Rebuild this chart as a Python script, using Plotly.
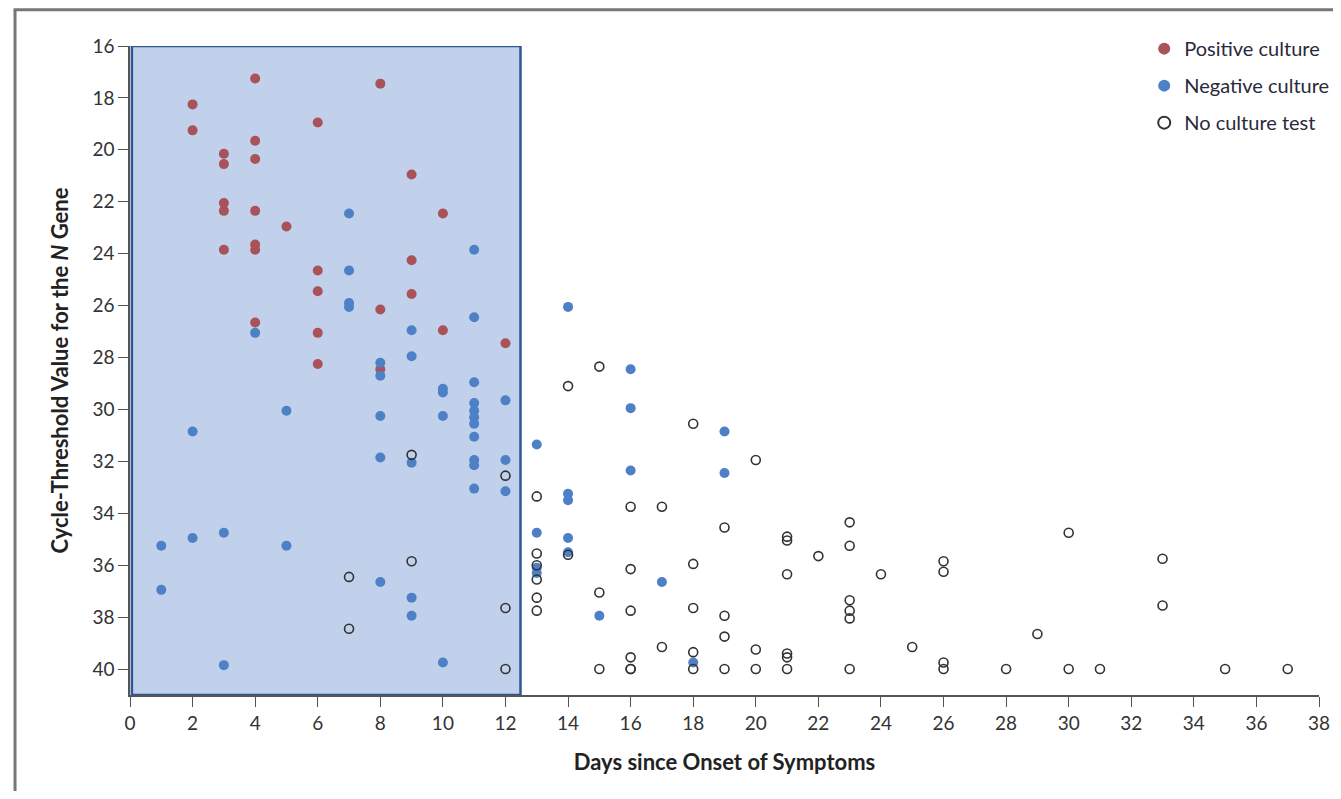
import plotly.graph_objects as go

# Positive culture
pos_days = [2, 2, 3, 3, 3, 3, 3, 4, 4, 4, 4, 4, 4, 4, 5, 6, 6, 6, 6, 6, 8, 8, 8, 9, 9, 9, 10, 10, 12]
pos_ct = [18.25, 19.25, 20.15, 20.55, 22.05, 22.35, 23.85, 17.25, 19.65, 20.35, 22.35, 23.65, 23.85, 26.65,
          22.95, 18.95, 24.65, 25.45, 27.05, 28.25, 17.45, 26.15, 28.45, 20.95, 24.25, 25.55, 22.45, 26.95, 27.45]

# Negative culture
neg_days = [1, 1, 2, 2, 3, 3, 4, 5, 5,
            7, 7, 7, 7,
            8, 8, 8, 8, 8,
            9, 9, 9, 9, 9,
            10, 10, 10, 10,
            11, 11, 11, 11, 11, 11, 11, 11, 11, 11, 11,
            12, 12, 12,
            13, 13, 13, 13,
            14, 14, 14, 14, 14,
            15, 16, 16, 16, 17, 18, 19, 19]
neg_ct = [35.25, 36.95, 30.85, 34.95, 34.75, 39.85, 27.05, 30.05, 35.25,
          22.45, 24.65, 25.9, 26.05,
          28.2, 28.7, 30.25, 31.85, 36.65,
          26.95, 27.95, 32.05, 37.25, 37.95,
          29.2, 29.35, 30.25, 39.75,
          23.85, 26.45, 28.95, 29.75, 30.05, 30.3, 30.55, 31.05, 31.95, 32.15, 33.05,
          29.65, 31.95, 33.15,
          31.35, 34.75, 36.1, 36.3,
          26.05, 33.25, 33.5, 34.95, 35.5,
          37.95, 28.45, 29.95, 32.35, 36.65, 39.75, 30.85, 32.45]

# No culture test
none_days = [7, 7, 9, 9, 12, 12, 12,
             13, 13, 13, 13, 13, 13,
             14, 14, 15, 15, 15,
             16, 16, 16, 16, 16, 16,
             17, 17,
             18, 18, 18, 18, 18,
             19, 19, 19, 19,
             20, 20, 20,
             21, 21, 21, 21, 21, 21,
             22,
             23, 23, 23, 23, 23, 23,
             24, 25, 26, 26, 26, 26, 28, 29, 30, 30, 31, 33, 33, 35, 37]
none_ct = [36.45, 38.45, 31.75, 35.85, 32.55, 37.65, 40.0,
           33.35, 35.55, 36.0, 36.55, 37.25, 37.75,
           29.1, 35.6, 28.35, 37.05, 40.0,
           33.75, 36.15, 37.75, 39.55, 40.0, 40.0,
           33.75, 39.15,
           30.55, 35.95, 37.65, 39.35, 40.0,
           34.55, 37.95, 38.75, 40.0,
           31.95, 39.25, 40.0,
           34.9, 35.05, 36.35, 39.4, 39.55, 40.0,
           35.65,
           34.35, 35.25, 37.35, 37.75, 38.05, 40.0,
           36.35, 39.15, 35.85, 36.25, 39.75, 40.0, 40.0, 38.65, 34.75, 40.0, 40.0, 35.75, 37.55, 40.0, 40.0]

x_ticks = list(range(0, 39, 2))
y_ticks = list(range(16, 41, 2))

FONT = "Lato"
RED = "#a9525a"
BLUE = "#4e80c6"

fig = go.Figure()
fig.add_trace(go.Scatter(x=pos_days, y=pos_ct, mode="markers", name="Positive culture", legendgroup="a",
                         marker=dict(color=RED, size=10, line=dict(width=0))))
fig.add_trace(go.Scatter(x=neg_days, y=neg_ct, mode="markers", name="Negative culture", legendgroup="b",
                         marker=dict(color=BLUE, size=10, line=dict(width=0))))
fig.add_trace(go.Scatter(x=none_days, y=none_ct, mode="markers", name="No culture test", legendgroup="c",
                         marker=dict(symbol="circle-open", color="#333333", size=9,
                                     line=dict(width=1.6, color="#333333"))))

# Shaded region (first 12.5 days)
fig.add_shape(type="rect", xref="x", yref="y", x0=0.06, x1=12.48, y0=16, y1=41,
              fillcolor="#c1d1eb", line=dict(color="#2e5597", width=2.5), layer="below")

# Outer frame lines
fig.add_shape(type="line", xref="paper", yref="paper", x0=-0.0967, x1=-0.0967, y0=1.056, y1=-0.16,
              line=dict(color="#777777", width=3))
fig.add_shape(type="line", xref="paper", yref="paper", x0=-0.0979, x1=1.02, y0=1.056, y1=1.056,
              line=dict(color="#777777", width=3))

fig.update_layout(
    width=1325, height=783,
    margin=dict(l=122, r=14, t=38, b=96, autoexpand=False),
    plot_bgcolor="white", paper_bgcolor="white",
    font=dict(family=FONT, color="#333333", size=18),
    legend=dict(x=0.853, y=1.026, xanchor="left", yanchor="top",
                font=dict(family=FONT, size=20, color="#2a2a3a"),
                bgcolor="rgba(0,0,0,0)", itemsizing="constant", tracegroupgap=8),
    xaxis=dict(range=[0, 38], tickmode="array", tickvals=x_ticks,
               showgrid=False, zeroline=False, showline=True, linecolor="#555555", linewidth=1.5,
               ticks="outside", ticklen=10, tickcolor="#555555", tickwidth=1.2,
               tickfont=dict(family=FONT, size=19, color="#333333"),
               title=dict(text="<b>Days since Onset of Symptoms</b>", standoff=22,
                          font=dict(family=FONT, size=22, color="#222222"))),
    yaxis=dict(range=[41, 16], tickmode="array", tickvals=y_ticks,
               showgrid=False, zeroline=False, showline=True, linecolor="#555555", linewidth=1.5,
               ticks="outside", ticklen=10, tickcolor="#555555", tickwidth=1.2,
               tickfont=dict(family=FONT, size=19, color="#333333"),
               title=dict(text="<b>Cycle-Threshold Value for the <i>N</i> Gene</b>", standoff=18,
                          font=dict(family=FONT, size=22, color="#222222"))),
)

fig.write_html("out.html")
